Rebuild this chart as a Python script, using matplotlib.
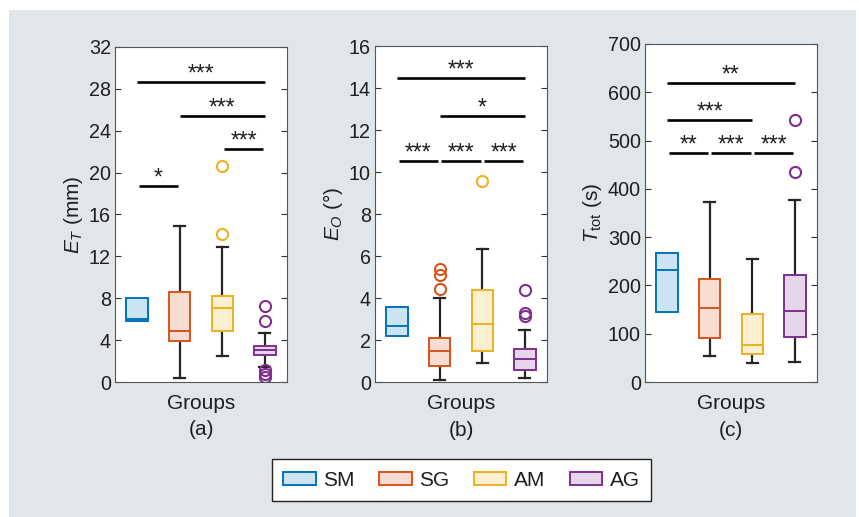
import matplotlib
matplotlib.use('Agg')
import matplotlib.pyplot as plt
from matplotlib.patches import Patch, Rectangle

plt.rcParams['font.family'] = ['Liberation Sans', 'DejaVu Sans']
plt.rcParams['mathtext.fontset'] = 'custom'
plt.rcParams['mathtext.rm'] = 'Liberation Sans'
plt.rcParams['mathtext.it'] = 'Liberation Sans:italic'

groups = ['SM', 'SG', 'AM', 'AG']
edge_colors = ['#0072BD', '#D95319', '#EDB120', '#7E2F8E']
fill_colors = ['#cce3f2', '#f7ddd1', '#fbefd2', '#e5d5e8']

# Panel (a): E_T (mm)
a_q1 = [5.8, 3.9, 4.85, 2.55]
a_med = [6.05, 4.9, 7.05, 3.05]
a_q3 = [8.07, 8.6, 8.17, 3.45]
a_lo = [5.8, 0.38, 2.5, 1.4]
a_hi = [8.07, 14.9, 12.9, 4.65]
a_fliers = [[], [], [14.1, 20.6], [7.25, 5.83, 1.15, 0.8, 0.45]]
a_sig = [(1, 2, 18.7, '*'), (1, 4, 28.7, '***'), (2, 4, 25.4, '***'), (3, 4, 22.3, '***')]
a_ticks = [0, 4, 8, 12, 16, 20, 24, 28, 32]

# Panel (b): E_O (deg)
b_q1 = [2.19, 0.75, 1.49, 0.56]
b_med = [2.65, 1.46, 2.78, 1.1]
b_q3 = [3.57, 2.1, 4.4, 1.56]
b_lo = [2.19, 0.08, 0.9, 0.19]
b_hi = [3.57, 4.02, 6.35, 2.5]
b_fliers = [[], [5.38, 5.11, 4.41], [9.57], [4.37, 3.29, 3.13]]
b_sig = [(1, 4, 14.5, '***'), (2, 4, 12.67, '*'), (1, 2, 10.52, '***'),
         (2, 3, 10.52, '***'), (3, 4, 10.52, '***')]
b_ticks = [0, 2, 4, 6, 8, 10, 12, 14, 16]

# Panel (c): T_tot (s)
c_q1 = [144.6, 92, 58.8, 92.7]
c_med = [231, 153.6, 77.5, 146.6]
c_q3 = [267.7, 212.4, 141.1, 221.3]
c_lo = [144.6, 53.3, 40.1, 41.5]
c_hi = [267.7, 372.8, 255.2, 377]
c_fliers = [[], [], [], [435, 542]]
c_sig = [(1, 4, 619, '**'), (1, 3, 542, '***'), (1, 2, 474, '**'),
         (2, 3, 474, '***'), (3, 4, 474, '***')]
c_ticks = [0, 100, 200, 300, 400, 500, 600, 700]

panels = [
    (a_q1, a_med, a_q3, a_lo, a_hi, a_fliers, a_sig, a_ticks, r'$E_T$ (mm)', '(a)'),
    (b_q1, b_med, b_q3, b_lo, b_hi, b_fliers, b_sig, b_ticks, r'$E_O$ (°)', '(b)'),
    (c_q1, c_med, c_q3, c_lo, c_hi, c_fliers, c_sig, c_ticks, r'$T_{\mathrm{tot}}$ (s)', '(c)'),
]

fig = plt.figure(figsize=(8.59, 5.17), dpi=100, facecolor='white')
fig.patches.append(Rectangle((9 / 859, 0), (856 - 9) / 859, (517 - 10) / 517,
                             transform=fig.transFigure, facecolor='#e1e6ea',
                             edgecolor='none', zorder=-10))

lefts = [115, 375, 645]
tops = [47, 46, 44]
bottom_px = 382
W, H = 859, 517
txt_col = '#1f1f1f'

for k, (q1, med, q3, lo, hi, fl, sig, ticks, ylab, tag) in enumerate(panels):
    ax = fig.add_axes([lefts[k] / W, (H - bottom_px) / H, 172 / W, (bottom_px - tops[k]) / H])
    ax.set_zorder(1)
    stats = []
    for i in range(4):
        stats.append(dict(q1=q1[i], med=med[i], q3=q3[i], whislo=lo[i], whishi=hi[i],
                          fliers=fl[i], label=groups[i]))
    positions = [1, 2, 3, 4]
    res = ax.bxp(stats, positions=positions, widths=0.5, patch_artist=True,
                 capwidths=0.26, showfliers=True,
                 whiskerprops=dict(color='#262626', lw=1.6, linestyle='-'),
                 capprops=dict(color='#262626', lw=1.6),
                 boxprops=dict(lw=1.4),
                 medianprops=dict(lw=1.4),
                 flierprops=dict(marker='o', markersize=8, markerfacecolor='none',
                                 markeredgewidth=1.5))
    for i in range(4):
        res['boxes'][i].set_facecolor(fill_colors[i])
        res['boxes'][i].set_edgecolor(edge_colors[i])
        res['boxes'][i].set_zorder(3)
        res['medians'][i].set_color(edge_colors[i])
        res['medians'][i].set_zorder(4)
        res['fliers'][i].set_markeredgecolor(edge_colors[i])
        if lo[i] >= q1[i]:
            res['caps'][2 * i].set_visible(False)
            res['whiskers'][2 * i].set_visible(False)
        if hi[i] <= q3[i]:
            res['caps'][2 * i + 1].set_visible(False)
            res['whiskers'][2 * i + 1].set_visible(False)

    for (g1, g2, yv, lab) in sig:
        x1, x2 = g1, g2
        if g2 - g1 == 1:
            x1 += 0.035
            x2 -= 0.035
        ax.plot([x1, x2], [yv, yv], color='black', lw=1.9, solid_capstyle='butt', zorder=5)
        ax.annotate(lab, xy=((x1 + x2) / 2, yv), xytext=(0, 1.0), textcoords='offset points',
                    ha='center', va='baseline', fontsize=16.5, color=txt_col)

    ax.set_xlim(0.48, 4.52)
    ax.set_ylim(ticks[0], ticks[-1])
    ax.set_yticks(ticks)
    ax.set_xticks([])
    ax.tick_params(axis='y', direction='in', right=True, length=4, width=0.8,
                   labelsize=14.2, colors='#333333', labelcolor=txt_col, pad=3)
    for sp in ax.spines.values():
        sp.set_color('#555555')
        sp.set_linewidth(0.8)
    ax.set_ylabel(ylab, fontsize=15, color=txt_col, labelpad=3)
    ax.text(0.5, -0.063, 'Groups', transform=ax.transAxes, ha='center', va='center',
            fontsize=15, color=txt_col)
    ax.text(0.5, -0.143, tag, transform=ax.transAxes, ha='center', va='center',
            fontsize=15, color=txt_col)

handles = [Patch(facecolor=fill_colors[i], edgecolor=edge_colors[i], lw=1.4) for i in range(4)]
leg = fig.legend(handles, groups, ncol=4, loc='center',
                 bbox_to_anchor=((274 + 649) / 2 / W, 1 - 480 / H),
                 fontsize=15, frameon=True, fancybox=False, edgecolor='#222222',
                 framealpha=1, facecolor='white',
                 handlelength=1.55, handleheight=0.58, handletextpad=0.35,
                 columnspacing=1.2, borderpad=0.55, borderaxespad=0)
leg.get_frame().set_linewidth(1.0)
for t in leg.get_texts():
    t.set_color(txt_col)

fig.savefig('out.png', dpi=100, facecolor='white')
